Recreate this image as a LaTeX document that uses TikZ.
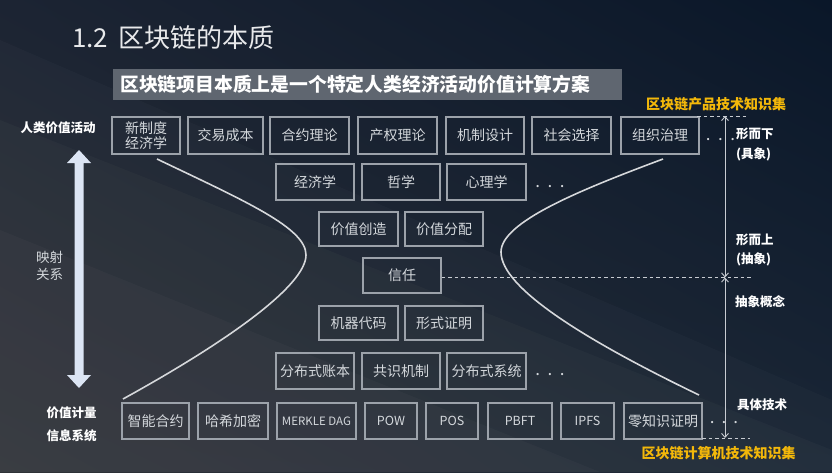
\documentclass[tikz,border=0pt]{standalone}
\usepackage{fontspec}
\setmainfont{Noto Sans CJK SC}
\usetikzlibrary{arrows.meta,shadings}
\definecolor{boxc}{HTML}{9CA2AA}
\definecolor{txtc}{HTML}{D4D8DC}
\definecolor{titlec}{HTML}{E8E9EB}
\definecolor{gold}{HTML}{F3B80A}
\definecolor{subbg}{HTML}{5F6670}
\definecolor{linec}{HTML}{C8CCD2}
\definecolor{curvec}{HTML}{D6D8DB}
\definecolor{arrowc}{HTML}{DCE5F4}
\definecolor{bgUL}{HTML}{1C2433}
\definecolor{bgUR}{HTML}{0A1729}
\definecolor{bgLL}{HTML}{2F3237}
\definecolor{bgLR}{HTML}{1A2636}
\begin{document}
\begin{tikzpicture}[x=1pt,y=-1pt,
  bx/.style={draw=boxc,line width=1.1pt,text=txtc,inner sep=0pt,
    font=\fontsize{14}{15.5}\selectfont,align=center},
  lat/.style={bx,font=\fontsize{12.5}{14}\selectfont},
  dotn/.style={text=txtc,inner sep=0pt,font=\fontsize{17}{17}\selectfont},
  lbl/.style={text=white,inner sep=0pt,font=\bfseries\fontsize{12.5}{18}\selectfont},
  rlbl/.style={lbl,anchor=west,align=left},
  goldl/.style={text=gold,inner sep=0pt,font=\bfseries\fontsize{14}{16}\selectfont},
  vline/.style={draw=linec,line width=0.9pt,{Straight Barb[length=4pt,width=7pt]}-{Straight Barb[length=4pt,width=7pt]}},
  dline/.style={draw=linec,line width=0.9pt,dash pattern=on 3.5pt off 3pt},
  curve/.style={draw=curvec,line width=1.6pt}
]
\useasboundingbox (0,0) rectangle (832,472);
% background
\shade[upper left=bgUL,upper right=bgUR,lower left=bgLL,lower right=bgLR] (0,0) rectangle (832,472);
\fill[white,opacity=0.025] (0,120) -- (832,450) -- (832,472) -- (0,472) -- cycle;
\fill[white,opacity=0.025] (0,230) -- (600,472) -- (0,472) -- cycle;
\fill[white,opacity=0.02] (0,40) -- (832,400) -- (832,472) -- (0,472) -- cycle;

% title and subtitle
\node[anchor=west,inner sep=0pt,text=titlec,font=\fontsize{26}{28}\selectfont] (title) at (72,38) {1.2\hspace{4pt} 区块链的本质};
\node[anchor=west,fill=subbg,minimum height=31pt,inner xsep=7pt,inner ysep=0pt,text width=495pt,align=left,
  text=white,font=\bfseries\fontsize{18.8}{20}\selectfont] (sub) at (113,84.5) {区块链项目本质上是一个特定人类经济活动价值计算方案};

% row 1
\node[bx,minimum width=68pt,minimum height=37pt,font=\fontsize{14}{15}\selectfont] (r1a) at (146,135.5) {新制度\\经济学};
\node[bx,minimum width=75pt,minimum height=37pt] (r1b) at (225.5,135.5) {交易成本};
\node[bx,minimum width=79pt,minimum height=37pt] (r1c) at (309.5,135.5) {合约理论};
\node[bx,minimum width=79pt,minimum height=37pt] (r1d) at (397.5,135.5) {产权理论};
\node[bx,minimum width=78pt,minimum height=37pt] (r1e) at (485,135.5) {机制设计};
\node[bx,minimum width=79pt,minimum height=37pt] (r1f) at (571.5,135.5) {社会选择};
\node[bx,minimum width=78pt,minimum height=37pt] (r1g) at (660,135.5) {组织治理};
\node[dotn] (d1) at (720.5,140) {.\hspace{7.5pt}.\hspace{7.5pt}.};

% row 2
\node[bx,minimum width=78pt,minimum height=36pt] (r2a) at (315,182) {经济学};
\node[bx,minimum width=78pt,minimum height=36pt] (r2b) at (401,182) {哲学};
\node[bx,minimum width=79pt,minimum height=36pt] (r2c) at (486.5,182) {心理学};
\node[dotn] (d2) at (550,187) {.\hspace{7.5pt}.\hspace{7.5pt}.};

% row 3
\node[bx,minimum width=79pt,minimum height=34pt] (r3a) at (358.5,229) {价值创造};
\node[bx,minimum width=78pt,minimum height=34pt] (r3b) at (444,229) {价值分配};

% row 4
\node[bx,minimum width=78pt,minimum height=35pt] (r4a) at (402,275.5) {信任};

% row 5
\node[bx,minimum width=79pt,minimum height=34pt] (r5a) at (358.5,323) {机器代码};
\node[bx,minimum width=78pt,minimum height=34pt] (r5b) at (444,323) {形式证明};

% row 6
\node[bx,minimum width=78pt,minimum height=36pt] (r6a) at (315,371) {分布式账本};
\node[bx,minimum width=78pt,minimum height=36pt] (r6b) at (401,371) {共识机制};
\node[bx,minimum width=79pt,minimum height=36pt] (r6c) at (486.5,371) {分布式系统};
\node[dotn] (d6) at (550,375) {.\hspace{7.5pt}.\hspace{7.5pt}.};

% row 7
\node[bx,minimum width=67pt,minimum height=36pt] (r7a) at (155.5,421) {智能合约};
\node[bx,minimum width=70pt,minimum height=36pt] (r7b) at (233,421) {哈希加密};
\node[lat,minimum width=79pt,minimum height=36pt,font=\fontsize{11.5}{13}\selectfont] (r7c) at (316.5,421) {MERKLE DAG};
\node[lat,minimum width=52pt,minimum height=36pt] (r7d) at (391,421) {POW};
\node[lat,minimum width=52pt,minimum height=36pt] (r7e) at (452,421) {POS};
\node[lat,minimum width=64pt,minimum height=36pt] (r7f) at (520,421) {PBFT};
\node[lat,minimum width=53pt,minimum height=36pt] (r7g) at (587.5,421) {IPFS};
\node[bx,minimum width=78pt,minimum height=36pt] (r7h) at (663,421) {零知识证明};
\node[dotn] (d7) at (724,423) {.\hspace{7pt}.\hspace{7pt}.};

% curves
\draw[curve] (157,159) .. controls (247,202) and (306,228) .. (306,255)
  .. controls (306,285) and (230,340) .. (123,399);
\draw[curve] (663,159) .. controls (580,190) and (501,222) .. (501,252)
  .. controls (501,288) and (585,340) .. (699,395);

% left double arrow
\fill[arrowc] (79,150) -- (91,163) -- (83.5,163) -- (83.5,375) -- (91,375) -- (79,388)
  -- (67,375) -- (74.5,375) -- (74.5,163) -- (67,163) -- cycle;

% left labels
\node[lbl] (la) at (58,128) {人类价值活动};
\node[text=txtc,inner sep=0pt,align=center,font=\fontsize{13.5}{17}\selectfont] (lb) at (49.5,265.5) {映射\\关系};
\node[lbl,align=center,font=\bfseries\fontsize{12.5}{23}\selectfont] (lc) at (71.5,424.5) {价值计量\\信息系统};

% right side
\coordinate (vt) at (725,116);
\coordinate (vm) at (725,277.5);
\coordinate (vb) at (725,438);
\coordinate (tdl) at (697,116);
\coordinate (tdr) at (746,116);
\coordinate (mdr) at (753,277.5);
\coordinate (bdl) at (702,438);
\coordinate (bdr) at (750,438);
\draw[dline] (tdl) -- (tdr);
\draw[dline] (r4a.east |- vm) -- (mdr);
\draw[dline] (bdl) -- (bdr);
\draw[vline] (vt) -- (vm);
\draw[vline] (vm) -- (vb);

\node[goldl] (g1) at (716,104) {区块链产品技术知识集};
\node[goldl] (g2) at (718.5,453) {区块链计算机技术知识集};

\node[rlbl,font=\bfseries\fontsize{12.5}{19.5}\selectfont] (ra) at (736,144.5) {形而下\\(具象)};
\node[rlbl,font=\bfseries\fontsize{12.5}{19.5}\selectfont] (rb) at (736,250) {形而上\\(抽象)};
\node[rlbl] (rc) at (735,302) {抽象概念};
\node[rlbl] (rd) at (737,405) {具体技术};
\end{tikzpicture}
\end{document}
